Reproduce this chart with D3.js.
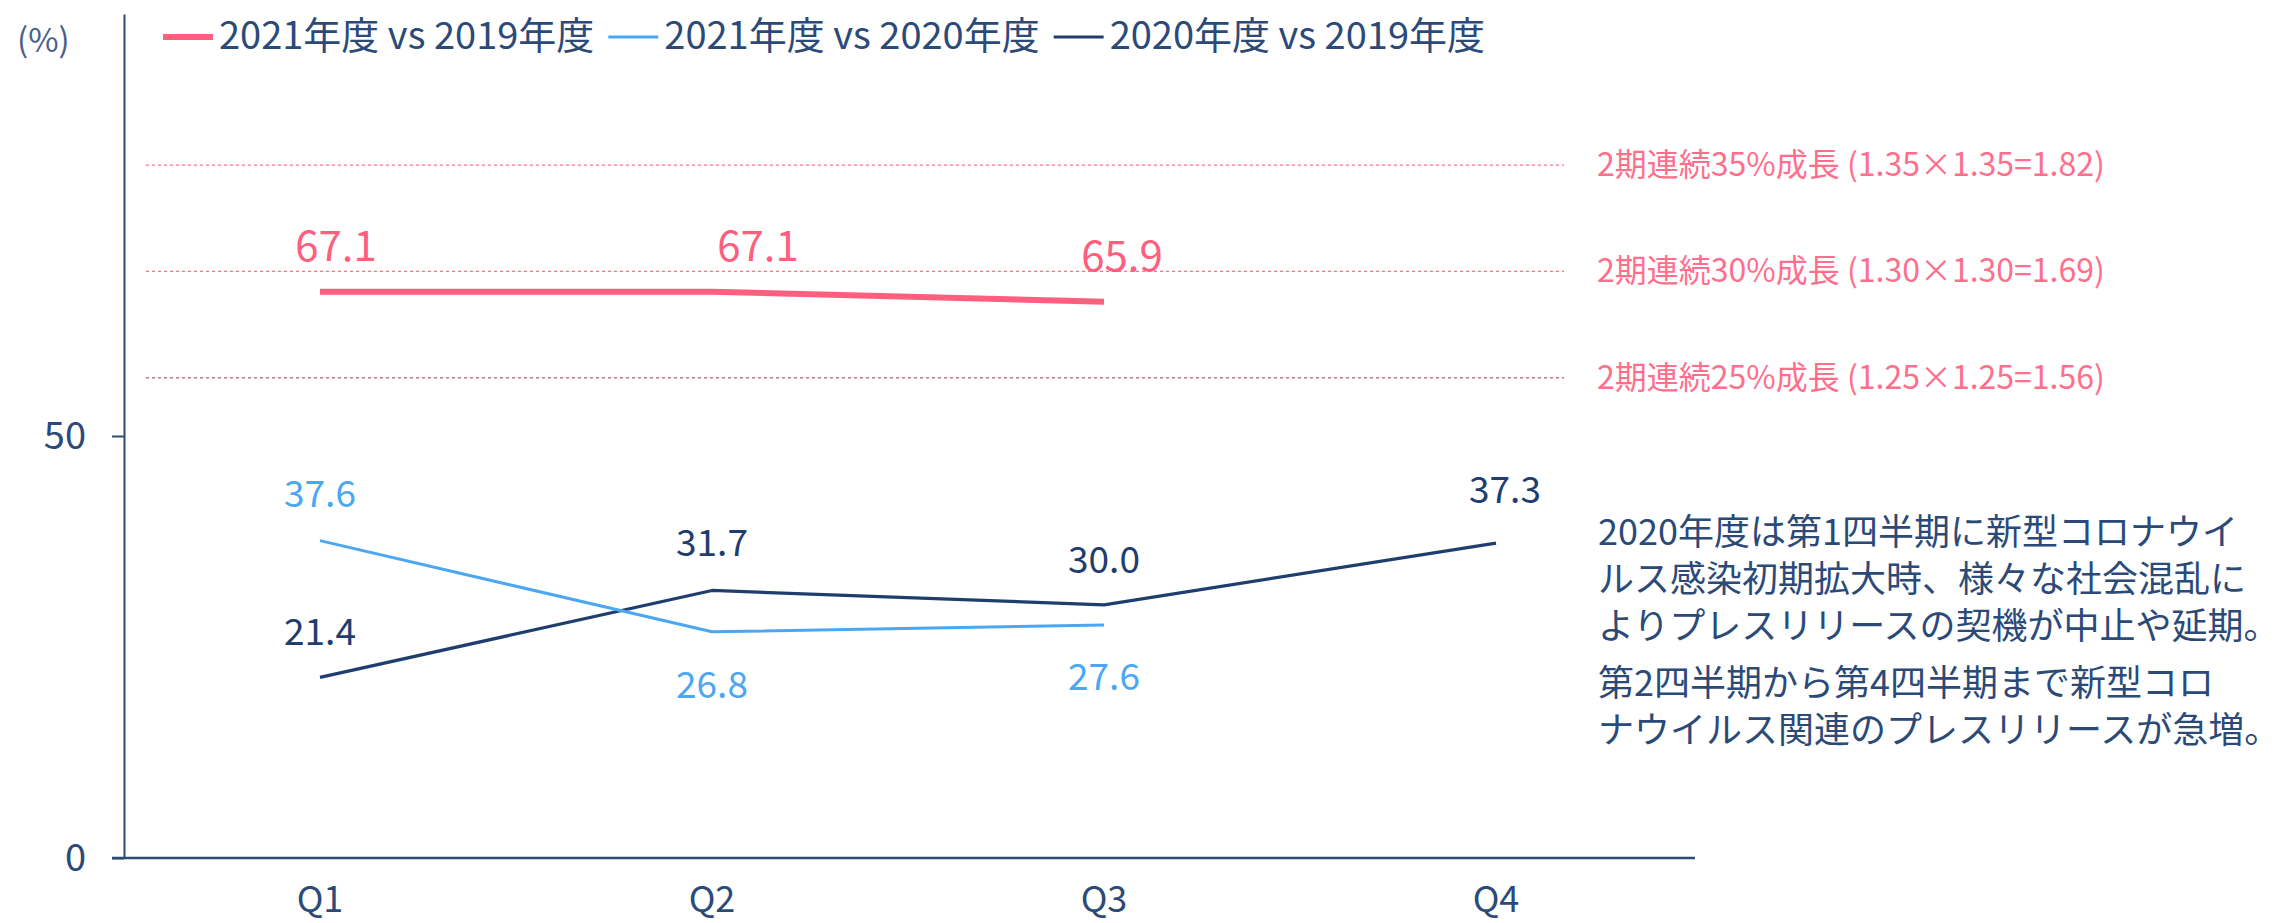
<!DOCTYPE html>
<html>
<head>
<meta charset="utf-8">
<script src="https://cdn.jsdelivr.net/npm/d3@7"></script>
<style>
  body { margin: 0; background: #fff; }
  svg { display: block; font-family: "Noto Sans CJK JP", "Noto Sans", sans-serif; }
</style>
</head>
<body>
<div id="container"></div>
<script>
// DATA
const quarters = ["Q1", "Q2", "Q3", "Q4"];
const seriesNames = ["2021年度 vs 2019年度", "2021年度 vs 2020年度", "2020年度 vs 2019年度"];
const v2021vs2019 = [67.1, 67.1, 65.9, null];
const v2021vs2020 = [37.6, 26.8, 27.6, null];
const v2020vs2019 = [21.4, 31.7, 30.0, 37.3];
const yTicks = [0, 50];
const refValues = [82.1, 69.5, 56.9];
const refLabels = [
  "2期連続35%成長 (1.35×1.35=1.82)",
  "2期連続30%成長 (1.30×1.30=1.69)",
  "2期連続25%成長 (1.25×1.25=1.56)"
];
const noteLines = [
  "2020年度は第1四半期に新型コロナウイ",
  "ルス感染初期拡大時、様々な社会混乱に",
  "よりプレスリリースの契機が中止や延期。",
  "第2四半期から第4四半期まで新型コロ",
  "ナウイルス関連のプレスリリースが急増。"
];

// STYLE / LAYOUT
const width = 2285;
const height = 923;
const navy = "#2b4a78";
const colors = ["#ff5f7e", "#4ca7f3", "#1f3e6e"];
const lineWidths = [6, 3, 3.2];
const labelSizes = [42, 37, 37];
// per-point label nudges (px) relative to the point
const labelDx = [[16, 46, 18, 0], [0, 0, 0, 0], [0, 0, 0, 9]];
const labelDy = [[-31, -31, -31, 0], [-34, 66, 65, 0], [-32, -34, -32, -40]];

const x = d3.scaleBand().domain(quarters).range([124, 1692]).padding(0);
const y = d3.scaleLinear().domain([0, 100]).range([858, 14]);

const svg = d3.select("#container")
  .append("svg")
  .attr("width", width)
  .attr("height", height)
  .attr("viewBox", [0, 0, width, height]);

// reference dotted lines
const refs = svg.append("g");
refs.selectAll("line")
  .data(refValues)
  .join("line")
    .attr("x1", 146)
    .attr("x2", 1564)
    .attr("y1", d => y(d))
    .attr("y2", d => y(d))
    .attr("stroke", (d, i) => i === 2 ? "#b9788a" : "#ff6f8c")
    .attr("stroke-width", 1.3)
    .attr("stroke-dasharray", "3 3");
refs.selectAll("text")
  .data(refValues)
  .join("text")
    .attr("x", 1597)
    .attr("y", d => y(d) + 11)
    .attr("fill", "#ff6f8c")
    .style("font-size", "32px")
    .text((d, i) => refLabels[i]);

// axes
const yAxis = svg.append("g")
  .attr("transform", `translate(${x.range()[0]},0)`)
  .call(d3.axisLeft(y).tickValues(yTicks).tickSize(12).tickSizeOuter(0).tickPadding(26));
yAxis.select(".domain").attr("stroke", navy).attr("stroke-width", 2);
yAxis.selectAll(".tick line").attr("stroke", navy).attr("stroke-width", 2);
yAxis.selectAll(".tick text")
  .attr("fill", navy)
  .style("font-size", "38px")
  .style("font-family", "\"Noto Sans CJK JP\", sans-serif");

const xAxis = svg.append("g")
  .attr("transform", `translate(0,${y(0)})`)
  .call(d3.axisBottom(x).tickSize(0).tickSizeOuter(0));
xAxis.select(".domain").attr("stroke", navy).attr("stroke-width", 2.5)
  .attr("d", `M${x.range()[0] - 12},0H1695`);
xAxis.selectAll(".tick text")
  .attr("y", 54)
  .attr("dy", 0)
  .attr("fill", navy)
  .style("font-size", "36px")
  .style("font-family", "\"Noto Sans CJK JP\", sans-serif");

// series
const allSeries = [v2021vs2019, v2021vs2020, v2020vs2019];
const line = d3.line()
  .defined(d => d.v != null)
  .x(d => x(d.q) + x.bandwidth() / 2)
  .y(d => y(d.v));

const drawOrder = [2, 1, 0];
for (const s of drawOrder) {
  const pts = quarters.map((q, i) => ({ q, v: allSeries[s][i], i }));
  svg.append("path")
    .datum(pts)
    .attr("fill", "none")
    .attr("stroke", colors[s])
    .attr("stroke-width", lineWidths[s])
    .attr("stroke-linejoin", "round")
    .attr("d", line);
  svg.append("g")
    .selectAll("text")
    .data(pts.filter(d => d.v != null))
    .join("text")
      .attr("x", d => x(d.q) + x.bandwidth() / 2 + labelDx[s][d.i])
      .attr("y", d => y(d.v) + labelDy[s][d.i])
      .attr("text-anchor", "middle")
      .attr("fill", colors[s])
      .style("font-size", labelSizes[s] + "px")
      .text(d => d.v.toFixed(1));
}

// unit label
svg.append("text")
  .attr("x", 17)
  .attr("y", 52)
  .attr("fill", "#4a6088")
  .style("font-size", "33px")
  .text("(%)");

// legend
const legend = svg.append("g");
let lx = 163;
seriesNames.forEach((name, i) => {
  legend.append("line")
    .attr("x1", lx).attr("x2", lx + 50)
    .attr("y1", 37).attr("y2", 37)
    .attr("stroke", colors[i])
    .attr("stroke-width", i === 0 ? 6 : 3);
  const t = legend.append("text")
    .attr("x", lx + 56)
    .attr("y", 49)
    .attr("fill", navy)
    .style("font-size", "38px")
    .text(name);
  lx += 56 + t.node().getComputedTextLength() + 14;
});

// notes
const noteY = [545, 592, 639, 696, 743];
svg.append("g")
  .selectAll("text")
  .data(noteLines)
  .join("text")
    .attr("x", 1598)
    .attr("y", (d, i) => noteY[i])
    .attr("fill", navy)
    .style("font-size", "36px")
    .text(d => d);
</script>
</body>
</html>
